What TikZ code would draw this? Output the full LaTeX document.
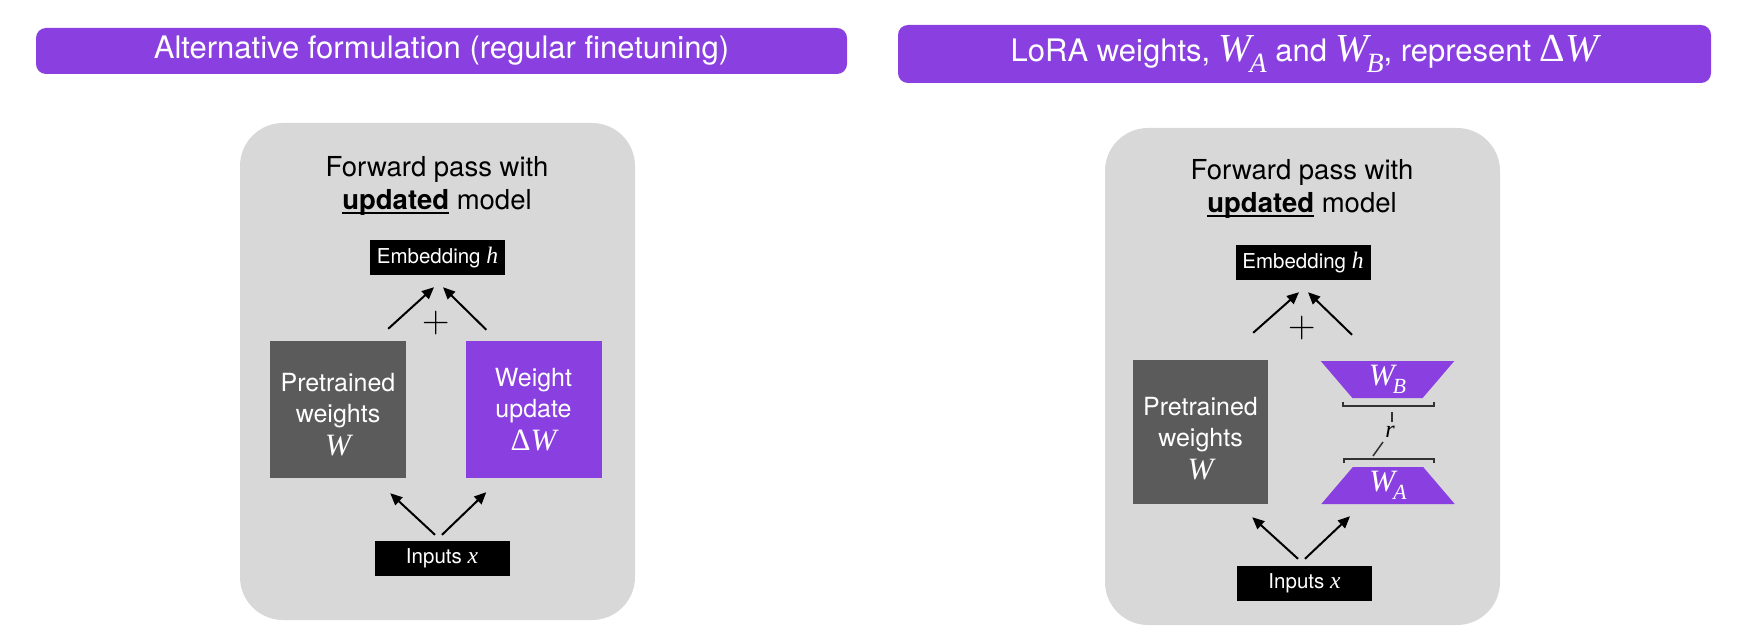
\documentclass[tikz,border=0pt]{standalone}
\usepackage{fontspec}
\usepackage{graphicx}
\setmainfont{TeX Gyre Heros}
\newfontfamily\tms{Liberation Serif}
\newfontfamily\lmr{Latin Modern Roman}
\usetikzlibrary{arrows.meta,calc,shapes.geometric}
\definecolor{lpurple}{RGB}{138,63,224}
\definecolor{panelgray}{RGB}{216,216,216}
\definecolor{boxgray}{RGB}{91,91,91}
\definecolor{brkgray}{RGB}{50,50,50}
\newcommand\mi[1]{{\tms\itshape\scalebox{1.15}{#1}}}
\newcommand\mysub[2]{{\tms\itshape\scalebox{1.15}{#1}\kern-0.07em\raisebox{-0.32em}{\scalebox{0.8}{#2}}}}
\newcommand\bigsub[2]{{\tms\itshape\scalebox{1.28}{#1}\kern-0.07em\raisebox{-0.36em}{\scalebox{0.9}{#2}}}}
\newcommand\mydelta{{\tms\scalebox{1.15}{Δ}}}
\newcommand\bigdelta{{\tms\scalebox{1.28}{Δ}}}
\newcommand\myul[1]{\setbox0\hbox{#1}\rlap{\rule[-4pt]{\wd0}{1.6pt}}\box0\relax}
\begin{document}
\begin{tikzpicture}[x=1pt,y=-1pt,
  banner/.style={fill=lpurple, rounded corners=10pt, text=white, inner sep=0,
    font=\fontsize{31}{37}\selectfont},
  panel/.style={fill=panelgray, rounded corners=43pt, inner sep=0, minimum width=395, minimum height=497},
  ptitle/.style={anchor=base, inner sep=0, font=\fontsize{27.5}{33}\selectfont},
  blk/.style={fill=black, text=white, inner sep=0, minimum width=135, minimum height=35,
    font=\fontsize{20.5}{24}\selectfont},
  wbox/.style={inner sep=0, minimum width=136, minimum height=137},
  wtxt/.style={text=white, inner sep=0, align=center, font=\fontsize{25}{31}\selectfont},
  trap/.style={trapezium, trapezium left angle=60, trapezium right angle=60, trapezium stretches=true,
    minimum width=134, minimum height=37, inner sep=0, fill=lpurple, text=white,
    font=\fontsize{27}{31}\selectfont},
  plus/.style={inner sep=0, font=\lmr\fontsize{38}{38}\selectfont},
  arr/.style={-{Triangle[length=12pt,width=10.5pt]}, line width=2pt},
  brk/.style={line width=1.5pt, draw=brkgray}
]
\useasboundingbox (0,0) rectangle (1752,636);

% ---------- left half ----------
\node[banner, minimum width=811, minimum height=46] (bL) at (441.5,51)
  {Alternative formulation (regular finetuning)};
\node[panel] (panL) at (437.5,371.5) {};
\node[ptitle] (tL1) at (437,177) {Forward pass with};
\node[ptitle] (tL2) at (437,210) {\myul{\textbf{updated}} model};
\node[blk] (eL) at (437.5,257.5) {Embedding \mi{h}};
\node[wbox, fill=boxgray] (pwL) at (338,409.5) {};
\node[wtxt] (pwLt) at (338,415) {Pretrained\\weights\\[2pt]{\fontsize{27}{31}\selectfont\mi{W}}};
\node[wbox, fill=lpurple] (wuL) at (533.5,409.5) {};
\node[wtxt] (wuLt) at (533.5,410) {Weight\\update\\[2pt]{\fontsize{27}{31}\selectfont\mydelta\mi{W}}};
\node[plus] (plL) at (436,323) {+};
\node[blk] (iL) at (442,558.5) {Inputs \mi{x}};
\draw[arr] ($(pwL.north east)+(-18,-12)$) -- ($(eL.south)+(-3.5,12)$);
\draw[arr] ($(wuL.north west)+(21,-11)$) -- ($(eL.south)+(5.5,12)$);
\draw[arr] ($(iL.north)+(-7,-6)$) -- ($(pwL.south east)+(-16,15)$);
\draw[arr] ($(iL.north)+(0,-6)$) -- ($(wuL.south west)+(21,14)$);

% ---------- right half ----------
\node[banner, minimum width=813, minimum height=58] (bR) at (1304.5,54)
  {LoRA weights, \bigsub{W}{A} and \bigsub{W}{B}, represent \bigdelta{\tms\itshape\scalebox{1.28}{W}}};
\node[panel] (panR) at (1302.5,376.5) {};
\node[ptitle] (tR1) at (1302,180) {Forward pass with};
\node[ptitle] (tR2) at (1302,213) {\myul{\textbf{updated}} model};
\node[blk] (eR) at (1303,262.5) {Embedding \mi{h}};
\node[wbox, fill=boxgray, minimum width=135, minimum height=144] (pwR) at (1200.5,432) {};
\node[wtxt] (pwRt) at (1200.5,439) {Pretrained\\weights\\[2pt]{\fontsize{27}{31}\selectfont\mi{W}}};
\node[trap, shape border rotate=180] (wB) at (1387.5,379.5) {\mysub{W}{B}};
\node[trap] (wA) at (1388,485.5) {\mysub{W}{A}};
\draw[brk] (1343,402) -- (1343,406) -- (1434,406) -- (1434,402);
\draw[brk] (1392,412) -- (1392,422);
\node[inner sep=0, font=\fontsize{21}{24}\selectfont] (rl) at (1390,432) {\mi{r}};
\draw[brk] (1383,442) -- (1373,456);
\draw[brk] (1344,463) -- (1344,459) -- (1434,459) -- (1434,463);
\node[plus] (plR) at (1302,328) {+};
\node[blk] (iR) at (1304.5,583.5) {Inputs \mi{x}};
\draw[arr] ($(pwR.north east)+(-15,-27)$) -- ($(eR.south)+(-4,12)$);
\draw[arr] ($(wB.north)+(-35.5,-26)$) -- ($(eR.south)+(5,12)$);
\draw[arr] ($(iR.north)+(-6.5,-7)$) -- ($(pwR.south east)+(-16,13)$);
\draw[arr] ($(iR.north)+(0.5,-7)$) -- ($(wA.south)+(-38,12)$);
\end{tikzpicture}
\end{document}
